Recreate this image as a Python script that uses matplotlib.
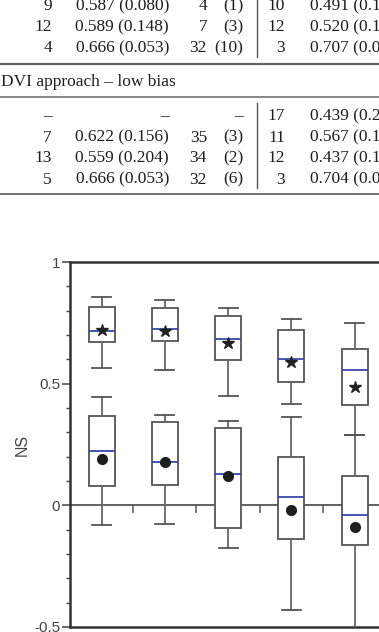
import matplotlib
matplotlib.use('Agg')
import matplotlib.pyplot as plt
from matplotlib.lines import Line2D
from matplotlib.ticker import MultipleLocator, FixedLocator

# ---------------- data ----------------
# table fragment (text content)
upper_rows = [["9", "0.587 (0.080)", "4", "(1)", "10", "0.491 (0.1"],
              ["12", "0.589 (0.148)", "7", "(3)", "12", "0.520 (0.1"],
              ["4", "0.666 (0.053)", "32", "(10)", "3", "0.707 (0.0"]]
section_title = "DVI approach \u2013 low bias"
lower_rows = [["\u2013", "\u2013", "", "\u2013", "17", "0.439 (0.2"],
              ["7", "0.622 (0.156)", "35", "(3)", "11", "0.567 (0.1"],
              ["13", "0.559 (0.204)", "34", "(2)", "12", "0.437 (0.1"],
              ["5", "0.666 (0.053)", "32", "(6)", "3", "0.704 (0.0"]]

positions = [1, 2, 3, 4, 5]
# upper group (star = mean)
up_whishi = [0.855, 0.842, 0.809, 0.764, 0.751]
up_q3     = [0.815, 0.812, 0.777, 0.720, 0.644]
up_med    = [0.716, 0.724, 0.682, 0.603, 0.557]
up_mean   = [0.722, 0.716, 0.667, 0.588, 0.487]
up_q1     = [0.670, 0.674, 0.596, 0.508, 0.411]
up_whislo = [0.566, 0.557, 0.449, 0.415, 0.290]
# lower group (dot = mean)
lo_whishi = [0.445, 0.371, 0.348, 0.363, 0.290]
lo_q3     = [0.366, 0.341, 0.319, 0.198, 0.122]
lo_med    = [0.222, 0.177, 0.127, 0.036, -0.039]
lo_mean   = [0.192, 0.177, 0.119, -0.018, -0.089]
lo_q1     = [0.078, 0.083, -0.093, -0.138, -0.162]
lo_whislo = [-0.079, -0.075, -0.175, -0.431, -0.560]

yticks = [-0.5, 0, 0.5, 1]
yticklabels = ["-0.5", "0", "0.5", "1"]

# ---------------- figure ----------------
W, H = 379, 632
fig = plt.figure(figsize=(W / 100, H / 100), dpi=100)

def fx(x):
    return x / W

def fy(y):
    return 1 - y / H

txt_kw = dict(family=["Liberation Serif", "DejaVu Serif"], fontsize=12.5, color="#1e1e1e")
right_cols = [52, 169, 207, 243, 285]
left_col6 = 310

def draw_rows(rows, baselines):
    for row, b in zip(rows, baselines):
        for j in range(5):
            if row[j]:
                fig.text(fx(right_cols[j]), fy(b), row[j], ha="right", va="baseline", **txt_kw)
        fig.text(fx(left_col6), fy(b), row[5], ha="left", va="baseline", **txt_kw)

draw_rows(upper_rows, [10, 31, 52])
fig.text(fx(1), fy(86), section_title, ha="left", va="baseline", **txt_kw)
draw_rows(lower_rows, [120.5, 141.5, 162.5, 183.5])

def hline(y, lw, c="#666666"):
    fig.add_artist(Line2D([0, 1], [fy(y), fy(y)], transform=fig.transFigure, lw=lw, color=c))

def vline(x, y0, y1, lw=1.0, c="#555555"):
    fig.add_artist(Line2D([fx(x), fx(x)], [fy(y0), fy(y1)], transform=fig.transFigure, lw=lw, color=c))

hline(63.5, 1.6)
hline(96.7, 1.1)
hline(194, 1.3)
vline(257, 0, 57)
vline(257, 103, 188)

# ---------------- box plot ----------------
ax_left, ax_top, ax_bot = 70, 262, 627
xlim = (0.5, 6.5)
unit = 63.25
ax = fig.add_axes([fx(ax_left), fy(ax_bot), (xlim[1] - xlim[0]) * unit / W, (ax_bot - ax_top) / H])
ax.set_xlim(*xlim)
ax.set_ylim(-0.5, 1)

def stats(whislo, q1, med, q3, whishi, mean):
    return [dict(whislo=a, q1=b, med=c, q3=d, whishi=e, mean=f, fliers=[])
            for a, b, c, d, e, f in zip(whislo, q1, med, q3, whishi, mean)]

common = dict(positions=positions, widths=0.41, capwidths=0.30, patch_artist=True,
              showmeans=True, showfliers=False, zorder=3,
              boxprops=dict(facecolor="white", edgecolor="#555555", linewidth=1.3),
              whiskerprops=dict(color="#666666", linewidth=1.3),
              capprops=dict(color="#555555", linewidth=1.3),
              medianprops=dict(color="#3a48a8", linewidth=1.3))

ax.bxp(stats(up_whislo, up_q1, up_med, up_q3, up_whishi, up_mean),
       meanprops=dict(marker="*", markersize=9, markerfacecolor="#222222",
                      markeredgecolor="#222222"), **common)
ax.bxp(stats(lo_whislo, lo_q1, lo_med, lo_q3, lo_whishi, lo_mean),
       meanprops=dict(marker="o", markersize=7, markerfacecolor="#1e1e1e",
                      markeredgecolor="#1e1e1e"), **common)

# spines
ax.spines["right"].set_visible(False)
ax.spines["left"].set_color("#333333")
ax.spines["left"].set_linewidth(1.8)
ax.spines["top"].set_color("#333333")
ax.spines["top"].set_linewidth(1.8)
ax.spines["bottom"].set_position(("data", 0))
ax.spines["bottom"].set_color("#555555")
ax.spines["bottom"].set_linewidth(1.3)
ax.spines["bottom"].set_zorder(2)
ax.axhline(-0.5, color="#333333", lw=1.8, clip_on=False)

# x ticks: between groups on the zero line
ax.set_xticks([p + 0.5 for p in positions])
ax.set_xticklabels([])
ax.tick_params(axis="x", direction="out", length=5.5, width=1.1, color="#555555")

# y ticks
ax.yaxis.set_major_locator(FixedLocator(yticks))
ax.set_yticklabels(yticklabels, family=["Liberation Sans", "DejaVu Sans"], fontsize=11, color="#444444")
ax.yaxis.set_minor_locator(MultipleLocator(0.1))
ax.tick_params(axis="y", which="major", direction="out", length=6, width=1.1, color="#444444", pad=1)
ax.tick_params(axis="y", which="minor", direction="out", length=3, width=1.0, color="#444444")

ax.set_ylabel("NS", family=["Liberation Sans", "DejaVu Sans"], fontsize=11.5, color="#444444", labelpad=3)

fig.savefig("out.png", dpi=100)
